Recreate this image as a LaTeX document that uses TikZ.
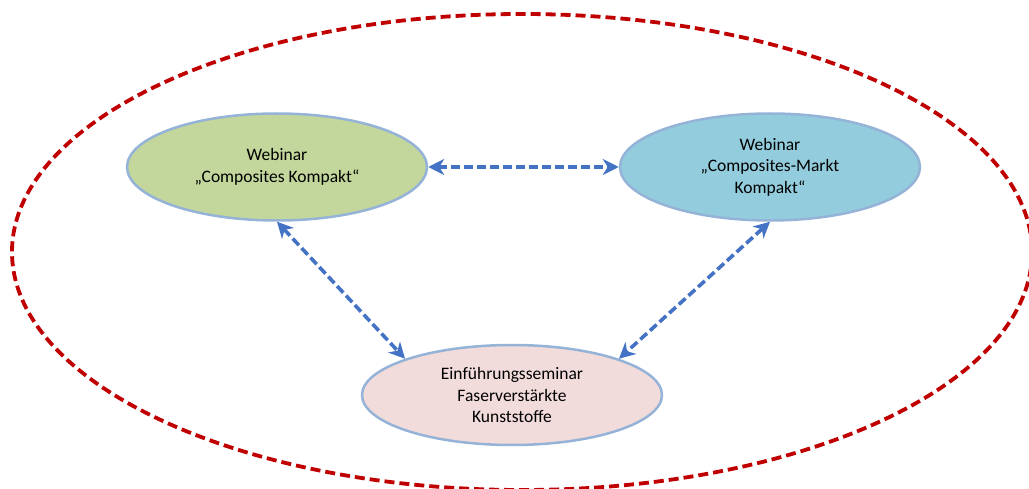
\documentclass[tikz,border=0pt]{standalone}
\usepackage{fontspec}
\setmainfont{Carlito}
\usetikzlibrary{arrows.meta,shapes.geometric}

\definecolor{rimblue}{HTML}{95B3D7}
\definecolor{linkblue}{HTML}{4472C4}
\definecolor{darkred}{HTML}{C00000}
\definecolor{fillgreen}{HTML}{C3D69B}
\definecolor{fillcyan}{HTML}{93CDDD}
\definecolor{fillrose}{HTML}{F2DCDB}

\tikzset{
    course/.style={ellipse,draw=rimblue,line width=2.5pt,inner sep=0pt,
        minimum width=300pt,minimum height=107pt,align=center,
        font=\fontsize{17.5}{21.5}\selectfont},
    link/.style={draw=linkblue,line width=3.6pt,dash pattern=on 9pt off 4pt,
        {Stealth[length=16pt,width=16pt,inset=5pt]}-{Stealth[length=16pt,width=16pt,inset=5pt]}}
}

\begin{document}
\begin{tikzpicture}[x=1pt,y=-1pt]
        \useasboundingbox (0,0) rectangle (1029,489);
        \draw[darkred,line width=3.8pt,dash pattern=on 10pt off 5pt] (522,252) ellipse [x radius=510,y radius=238];

        \node[course,fill=fillgreen] (compkompakt) at (277,167) {Webinar\\„Composites Kompakt“};
        \node[course,fill=fillcyan] (marktkompakt) at (770,167) {Webinar\\„Composites-Markt\\Kompakt“};
        \node[course,fill=fillrose,minimum height=100pt] (seminar) at (512,395) {Einführungsseminar\\Faserverstärkte\\Kunststoffe};

        \draw[link] (compkompakt) -- (marktkompakt);
        \draw[link] (compkompakt.south) -- (seminar.north west);
        \draw[link] (marktkompakt.south) -- (seminar.north east);
    \end{tikzpicture}
\end{document}
